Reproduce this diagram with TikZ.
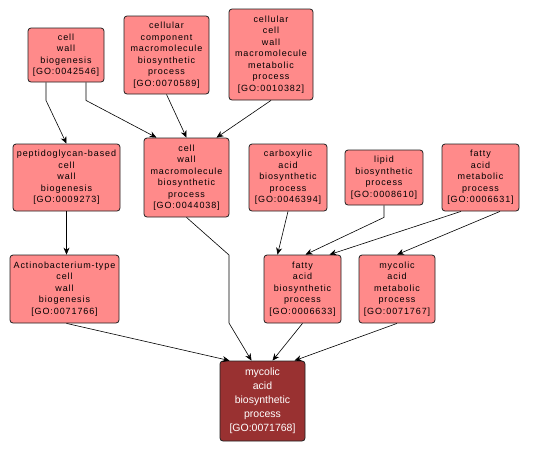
\documentclass[tikz,border=0pt]{standalone}
\usepackage{fontspec}
\setmainfont{Liberation Sans}
\newfontfamily\termfamily[LetterSpace=10]{Liberation Sans}
\newcommand{\termFont}{\termfamily\fontsize{9}{11.5}\selectfont}
\newcommand{\queryFont}{\fontsize{10.5}{14}\selectfont}
\usetikzlibrary{arrows.meta}

\begin{document}
\begin{tikzpicture}[x=1pt, y=-1pt,
    term/.style={draw=borderColour, fill=fillColourTerm, rounded corners=3pt, line width=0.8pt,
        align=center, inner sep=0pt, font=\termFont},
    query/.style={term, fill=fillColourQuery, text=white, font=\queryFont},
    isa/.style={-{Stealth[length=7pt,width=6pt]}, line width=0.6pt}]

    \definecolor{borderColour}{HTML}{202020}
    \definecolor{fillColourTerm}{HTML}{FF8A8A}
    \definecolor{fillColourQuery}{HTML}{993131}

    % Canvas
    \useasboundingbox[fill=white] (0,0) rectangle (533,451);

    % Top row
    \node[term, minimum width=76pt, minimum height=54pt] (cwb) at (66,55)
        {cell\\wall\\biogenesis\\{[GO:0042546]}};
    \node[term, minimum width=85pt, minimum height=78pt] (ccmbp) at (166.5,55)
        {cellular\\component\\macromolecule\\biosynthetic\\process\\{[GO:0070589]}};
    \node[term, minimum width=84pt, minimum height=91pt] (ccwmmp) at (271,54.5)
        {cellular\\cell\\wall\\macromolecule\\metabolic\\process\\{[GO:0010382]}};

    % Middle row
    \node[term, minimum width=107pt, minimum height=67pt] (pgb) at (66.5,177.5)
        {peptidoglycan-based\\cell\\wall\\biogenesis\\{[GO:0009273]}};
    \node[term, minimum width=85pt, minimum height=79pt] (cwmbp) at (186.5,177.5)
        {cell\\wall\\macromolecule\\biosynthetic\\process\\{[GO:0044038]}};
    \node[term, minimum width=78pt, minimum height=67pt] (cabp) at (288,177.5)
        {carboxylic\\acid\\biosynthetic\\process\\{[GO:0046394]}};
    \node[term, minimum width=78pt, minimum height=55pt] (lbp) at (384,177.5)
        {lipid\\biosynthetic\\process\\{[GO:0008610]}};
    \node[term, minimum width=77pt, minimum height=67pt] (famp) at (480.5,177.5)
        {fatty\\acid\\metabolic\\process\\{[GO:0006631]}};

    % Lower row
    \node[term, minimum width=109pt, minimum height=68pt] (atcwb) at (64.5,289)
        {Actinobacterium-type\\cell\\wall\\biogenesis\\{[GO:0071766]}};
    \node[term, minimum width=77pt, minimum height=68pt] (fabp) at (302.5,289)
        {fatty\\acid\\biosynthetic\\process\\{[GO:0006633]}};
    \node[term, minimum width=76pt, minimum height=68pt] (mamp) at (397,289)
        {mycolic\\acid\\metabolic\\process\\{[GO:0071767]}};

    % Query term
    \node[query, minimum width=85pt, minimum height=80pt] (mabp) at (262.5,401)
        {mycolic\\acid\\biosynthetic\\process\\{[GO:0071768]}};

    % Edges
    \draw[isa] ([xshift=-20pt]cwb.south) -- ++(0,18) -- (pgb.north);
    \draw[isa] ([xshift=20pt]cwb.south) -- ++(0,18) -- ([xshift=-30pt]cwmbp.north);
    \draw[isa] (ccmbp.south) -- (cwmbp.north);
    \draw[isa] (ccwmmp.south) -- ([xshift=30pt]cwmbp.north);
    \draw[isa] (pgb.south) -- (pgb.south |- atcwb.north);
    \draw[isa] (cwmbp.south) -- (229,255) -- (229,323) -- ([xshift=-11pt]mabp.north);
    \draw[isa] (cabp.south) -- ([xshift=-25pt]fabp.north);
    \draw[isa] (lbp.south) -- ++(0,12) -- ([xshift=3pt]fabp.north);
    \draw[isa] ([xshift=-19.5pt]famp.south) -- ([xshift=27pt]fabp.north);
    \draw[isa] ([xshift=19.5pt]famp.south) -- (mamp.north);
    \draw[isa] ([xshift=2pt]atcwb.south) -- ([xshift=-33pt]mabp.north);
    \draw[isa] (fabp.south) -- ([xshift=10pt]mabp.north);
    \draw[isa] (mamp.south) -- ([xshift=32pt]mabp.north);

\end{tikzpicture}
\end{document}
